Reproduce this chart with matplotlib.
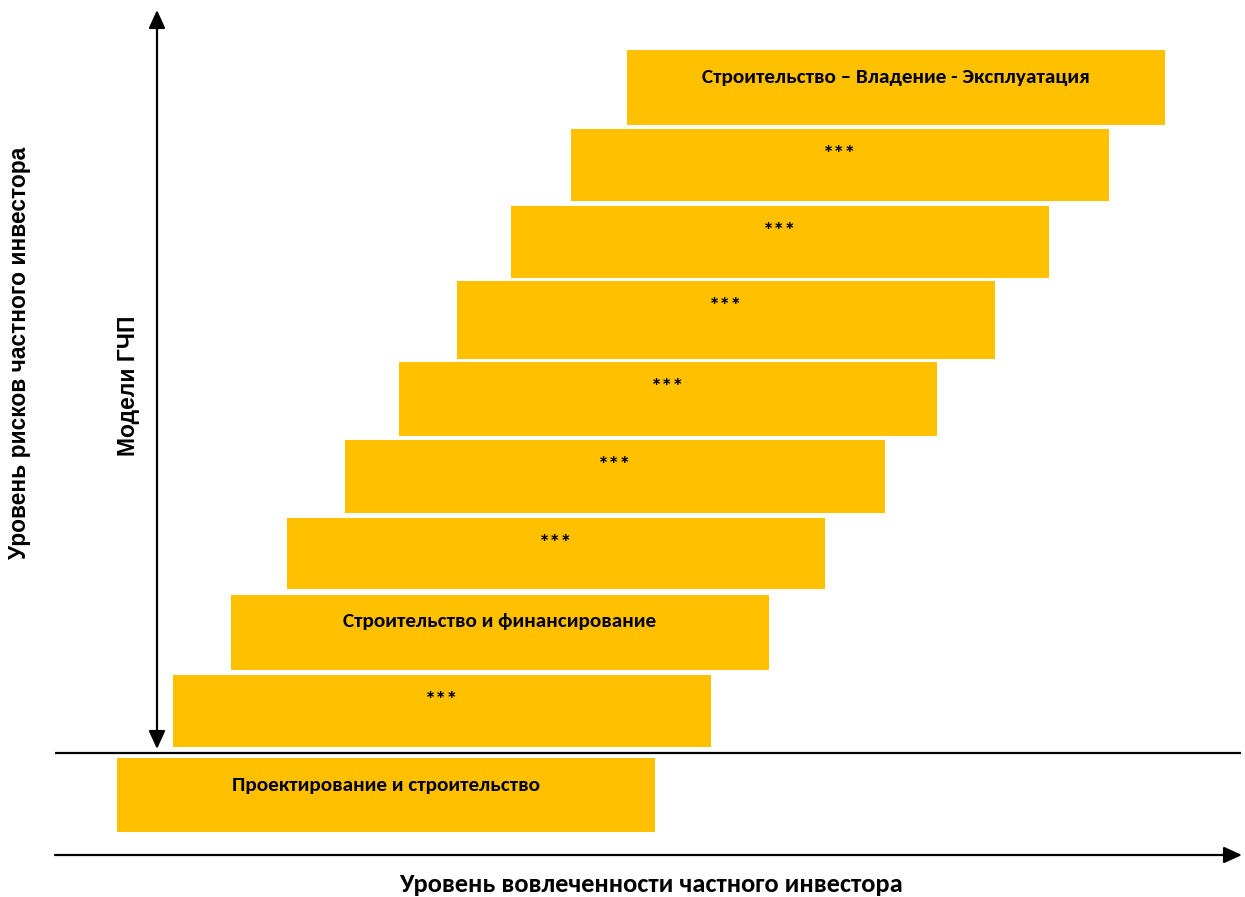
import matplotlib
matplotlib.use("Agg")
import matplotlib.pyplot as plt
from matplotlib.patches import Rectangle

# Models (from bottom to top of the staircase)
models = ["Проектирование и строительство", "***", "Строительство и финансирование",
          "***", "***", "***", "***", "***", "***",
          "Строительство – Владение - Эксплуатация"]
# involvement start / end and risk band (top / bottom)
inv_start = [117, 173, 231, 287, 345, 399, 457, 511, 571, 627]
inv_end = [655, 711, 769, 825, 885, 937, 995, 1049, 1109, 1165]
risk_top = [758, 675, 595, 518, 440, 362, 281, 206, 129, 50]
risk_bottom = [832, 747, 670, 589, 513, 436, 359, 278, 201, 125]

x_label = "Уровень вовлеченности частного инвестора"
y_label = "Уровень рисков частного инвестора"
group_label = "Модели ГЧП"

calibri = ["Carlito", "Open Sans", "DejaVu Sans"]
arial = ["Liberation Sans", "DejaVu Sans"]

W, H = 1245, 897
fig = plt.figure(figsize=(W / 100, H / 100), dpi=100)
ax = fig.add_axes([0, 0, 1, 1])
ax.set_xlim(0, W)
ax.set_ylim(H, 0)
ax.axis("off")

bar_color = "#FFC000"
for lab, x0, x1, y0, y1 in zip(models, inv_start, inv_end, risk_top, risk_bottom):
    ax.add_patch(Rectangle((x0, y0), x1 - x0, y1 - y0, facecolor=bar_color,
                           edgecolor="none"))
    if lab == "***":
        ax.text((x0 + x1) / 2, y0 + 26, lab, ha="center", va="center",
                family=calibri, fontweight="bold", fontsize=16, color="black")
    else:
        ax.text((x0 + x1) / 2, y0 + 27, lab, ha="center", va="center",
                family=calibri, fontweight="bold", fontsize=15.3, color="black")

# separator line
ax.plot([55, 1241], [753, 753], color="black", lw=1.6, solid_capstyle="butt")

# horizontal arrow
ax.annotate("", xy=(1242, 855), xytext=(55, 855),
            arrowprops=dict(arrowstyle="-|>,head_length=1.1,head_width=0.5",
                            color="black", lw=1.6, shrinkA=0, shrinkB=0))

# vertical double arrow
ax.annotate("", xy=(157, 10), xytext=(157, 749),
            arrowprops=dict(arrowstyle="<|-|>,head_length=1.1,head_width=0.5",
                            color="black", lw=1.6, shrinkA=0, shrinkB=0))

ax.text(651, 885, x_label, ha="center", va="center", family=calibri,
        fontweight="bold", fontsize=19)
ax.text(20, 353, y_label, ha="center", va="center", rotation=90, family=arial,
        fontweight="bold", fontsize=16.4)
ax.text(128, 386, group_label, ha="center", va="center", rotation=90, family=arial,
        fontweight="bold", fontsize=16.5)

fig.savefig("out.png", dpi=100)
